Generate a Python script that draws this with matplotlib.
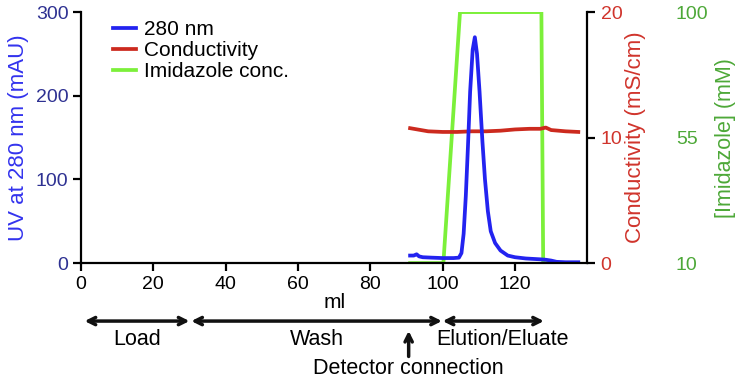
import matplotlib
matplotlib.use('Agg')
import matplotlib.pyplot as plt
import numpy as np

plt.rcParams['font.family'] = ['Liberation Sans', 'DejaVu Sans']
plt.rcParams['font.size'] = 14

# UV absorbance at 280 nm (mAU)
uv_ml = [91, 92, 92.8, 93.5, 94.5, 97, 100, 103, 104.5, 105.2, 105.8, 106.4, 107, 107.6, 108.3,
         108.9, 109.5, 110.2, 111, 111.7, 112.5, 113.3, 114.5, 116, 118, 120, 123, 127,
         128.5, 130, 131.5, 134, 137.5]
uv = [9, 9, 10.5, 8, 7, 6.5, 6, 6, 6.5, 12, 35, 80, 140, 205, 255,
      270, 250, 205, 145, 100, 62, 38, 24, 15, 9, 7, 5.5, 4.5,
      4, 3, 1.5, 1, 1]

# conductivity (mS/cm)
cond_ml = [91, 93, 96, 100, 104, 108, 112, 116, 120, 124, 127, 128.5, 130, 134, 137.5]
cond = [10.75, 10.65, 10.5, 10.45, 10.45, 10.5, 10.5, 10.55, 10.65, 10.7, 10.7, 10.8, 10.6, 10.5, 10.45]

# imidazole concentration (mM)
imid_ml = [91, 100.2, 104.8, 127.3, 127.8, 130]
imid = [10, 10, 100, 100, 10, 10]

# phases along the run
phases = ['Load', 'Wash', 'Elution/Eluate']
phase_start = [1, 30.5, 100]
phase_end = [30, 99.8, 128]
detector_ml = 90.6

c_uv = '#2323F0'
c_cond = '#CC2A1E'
c_imid = '#7CF03A'

fig = plt.figure(figsize=(7.36, 3.78), dpi=100)
ax = fig.add_axes([0.110, 0.304, 0.688, 0.664])
ax_c = ax.twinx()
ax_i = ax.twinx()

ax.set_zorder(3)
ax.patch.set_visible(False)
ax_c.set_zorder(2)
ax_i.set_zorder(1)

l3, = ax_i.plot(imid_ml, imid, color=c_imid, lw=2.7, label='Imidazole conc.')
l2, = ax_c.plot(cond_ml, cond, color=c_cond, lw=2.7, label='Conductivity')
l1, = ax.plot(uv_ml, uv, color=c_uv, lw=2.7, label='280 nm')

ax.set_xlim(0, 140)
ax.set_ylim(0, 300)
ax_c.set_ylim(0, 20)
ax_i.set_ylim(10, 100)

ax.set_xticks([0, 20, 40, 60, 80, 100, 120])
ax.set_yticks([0, 100, 200, 300])
ax_c.set_yticks([0, 10, 20])
ax_i.set_yticks([10, 55, 100])

for a in (ax, ax_c, ax_i):
    a.spines['top'].set_visible(False)
ax.spines['right'].set_visible(False)
for s in ('left', 'bottom'):
    ax.spines[s].set_linewidth(1.6)
ax_c.spines['right'].set_linewidth(1.6)
for s in ('left', 'bottom'):
    ax_c.spines[s].set_visible(False)
    ax_i.spines[s].set_visible(False)
ax_i.spines['right'].set_visible(False)
ax_i.spines['right'].set_position(('axes', 1.165))

ax.tick_params(axis='both', direction='out', length=6, width=1.6, pad=3)
ax.tick_params(axis='y', labelcolor='#2E3192')
ax_c.tick_params(axis='y', length=6, width=1.6, labelcolor='#D0342C')
ax_i.tick_params(axis='y', length=0, labelcolor='#4DA838')

ax.set_ylabel('UV at 280 nm (mAU)', color='#3333EE', labelpad=5, fontsize=16)
ax_c.set_ylabel('Conductivity (mS/cm)', color='#D0342C', labelpad=2, fontsize=16)
ax_i.set_ylabel('[Imidazole] (mM)', color='#4DA838', labelpad=5, fontsize=15.5)
ax.set_xlabel('ml', labelpad=0, fontsize=15)

ax.legend(handles=[l1, l2, l3], loc='upper left', frameon=False,
          bbox_to_anchor=(0.027, 1.043), handlelength=1.1, handletextpad=0.35,
          labelspacing=0.1, fontsize=15)

# phase arrows below the axis
for name, a0, a1 in zip(phases, phase_start, phase_end):
    ax.annotate('', xy=(a0, -0.231), xytext=(a1, -0.231),
                xycoords=('data', 'axes fraction'), textcoords=('data', 'axes fraction'),
                arrowprops=dict(arrowstyle='<->', lw=2.5, color='#111111',
                                mutation_scale=13, shrinkA=0, shrinkB=0))
    ax.text((a0 + a1) / 2 + (2.5 if name == 'Elution/Eluate' else 0), -0.305, name,
            transform=ax.get_xaxis_transform(), ha='center', va='center', fontsize=15.5)

ax.annotate('', xy=(detector_ml, -0.27), xytext=(detector_ml, -0.372),
            xycoords=('data', 'axes fraction'), textcoords=('data', 'axes fraction'),
            arrowprops=dict(arrowstyle='->', lw=2.5, color='#111111',
                            mutation_scale=13, shrinkA=0, shrinkB=0))
ax.text(detector_ml, -0.418, 'Detector connection', transform=ax.get_xaxis_transform(),
        ha='center', va='center', fontsize=15.5)

fig.savefig('out.png', dpi=100)
